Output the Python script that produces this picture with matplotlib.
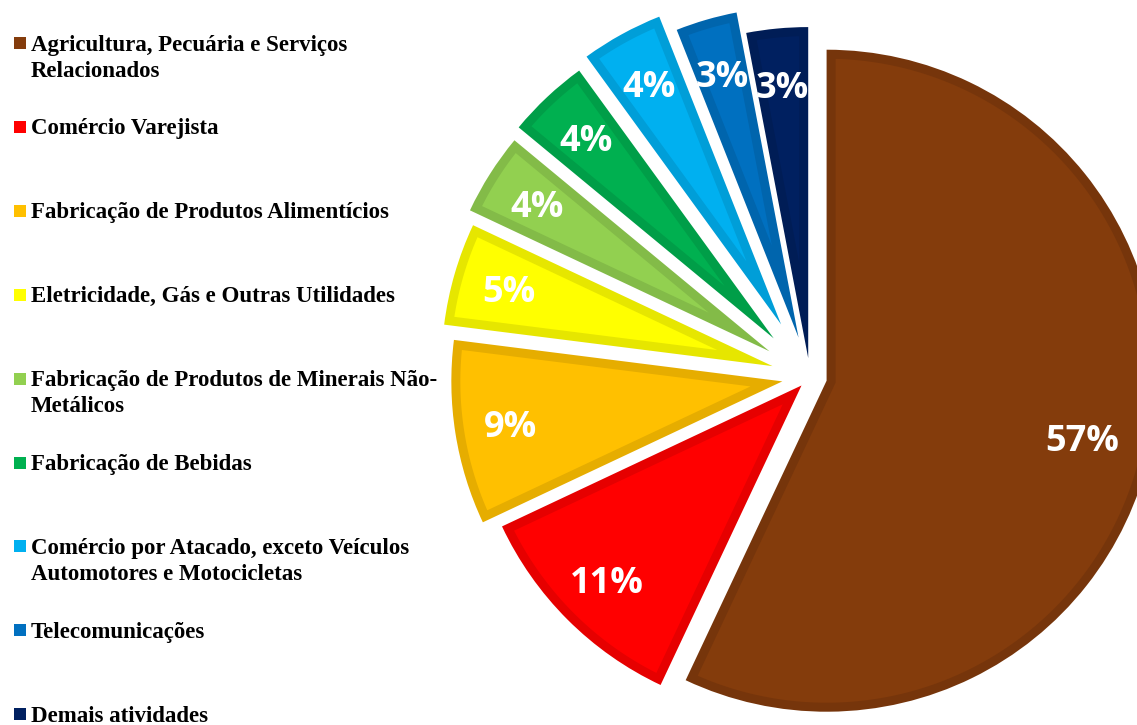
import numpy as np
import matplotlib.pyplot as plt
from matplotlib.patches import Rectangle, Polygon

# ------------------ DATA ------------------
categories = [
    "Agricultura, Pecuária e Serviços\nRelacionados",
    "Comércio Varejista",
    "Fabricação de Produtos Alimentícios",
    "Eletricidade, Gás e Outras Utilidades",
    "Fabricação de Produtos de Minerais Não-\nMetálicos",
    "Fabricação de Bebidas",
    "Comércio por Atacado, exceto Veículos\nAutomotores e Motocicletas",
    "Telecomunicações",
    "Demais atividades",
]
shares = [57, 11, 9, 5, 4, 4, 4, 3, 3]
fill_colors = ["#843C0C", "#FF0000", "#FFC000", "#FFFF00", "#92D050",
               "#00B050", "#00B0F0", "#0070C0", "#002060"]
border_colors = ["#76350B", "#E60000", "#E6AD00", "#E6E600", "#83BB48",
                 "#009E48", "#009ED8", "#0065AD", "#001D56"]

# ------------------ CONFIG ------------------
W, H = 1137, 725
CENTER = (810, H - 377)
RADIUS = 331
BAND = 9          # width of the darker inner border, px
explode_px = [17, 12, 28, 39, 48, 53, 60, 41, 19]
label_dist = [0.79, 0.83, 0.83, 0.83, 0.83, 0.83, 0.83, 0.83, 0.83]


def inset_polygon(c, r, t1, t2, b):
    # wedge shrunk inward by b on every side
    h = np.radians(t2 - t1) / 2
    m = np.radians(t1) + h
    s = b / np.sin(h)
    cx, cy = c
    px, py = cx + s * np.cos(m), cy + s * np.sin(m)
    R = r - b
    t = -s * np.cos(h) + np.sqrt(R ** 2 - b ** 2)
    q1 = (px + t * np.cos(np.radians(t1)), py + t * np.sin(np.radians(t1)))
    q2 = (px + t * np.cos(np.radians(t2)), py + t * np.sin(np.radians(t2)))
    p1 = np.arctan2(q1[1] - cy, q1[0] - cx)
    p2 = np.arctan2(q2[1] - cy, q2[0] - cx)
    while p2 < p1:
        p2 += 2 * np.pi
    phi = np.linspace(p1, p2, 300)
    arc = np.column_stack([cx + R * np.cos(phi), cy + R * np.sin(phi)])
    return np.vstack([[px, py], arc])


def create_plot():
    fig = plt.figure(figsize=(W / 100, H / 100), dpi=100)
    ax = fig.add_axes([0, 0, 1, 1])

    wedges, texts, autotexts = ax.pie(
        shares,
        colors=border_colors,
        startangle=90,
        counterclock=False,
        explode=explode_px,
        center=CENTER,
        radius=RADIUS,
        autopct=lambda p: f"{p:.0f}%",
        pctdistance=0.83,
        wedgeprops=dict(linewidth=0),
        textprops=dict(color="white", fontsize=26, fontweight="bold",
                       family="Open Sans"),
    )
    for w, col, at, d in zip(wedges, fill_colors, autotexts, label_dist):
        pts = inset_polygon(w.center, w.r, w.theta1, w.theta2, BAND)
        ax.add_patch(Polygon(pts, closed=True, color=col, lw=0))
        m = np.radians((w.theta1 + w.theta2) / 2)
        at.set_position((w.center[0] + d * w.r * np.cos(m),
                         w.center[1] + d * w.r * np.sin(m) - 4))

    # legend drawn by hand, uniform spacing of first lines
    for i, (name, col) in enumerate(zip(categories, fill_colors)):
        base = 50 + i * 83.9
        ax.add_patch(Rectangle((14, H - base + 1), 12, 12, color=col, lw=0))
        ax.text(31, H - base + 15.5, name, ha="left", va="top",
                fontsize=16.5, fontweight="bold", family="Liberation Serif",
                color="black", linespacing=1.33)

    ax.set_xlim(0, W)
    ax.set_ylim(0, H)
    ax.set_aspect("equal", adjustable="box")
    ax.axis("off")
    fig.savefig("out.png", dpi=100)
    plt.close(fig)


def main():
    create_plot()


if __name__ == "__main__":
    main()
